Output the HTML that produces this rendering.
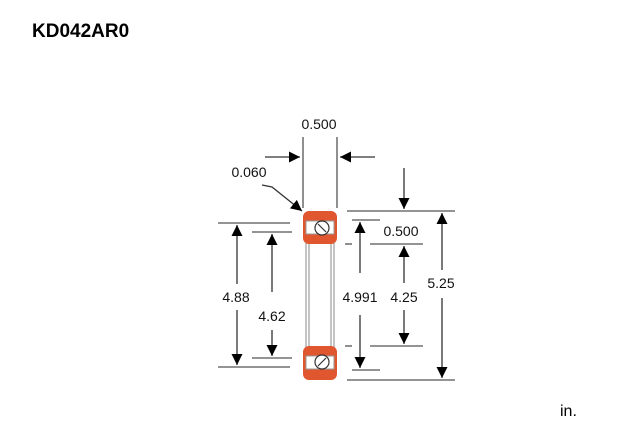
<!DOCTYPE html>
<html><head><style>
body{margin:0;background:#fff;width:640px;height:440px;overflow:hidden;font-family:"Liberation Sans",Arial,sans-serif}
</style></head><body>
<svg width="640" height="440" viewBox="0 0 640 440" xmlns="http://www.w3.org/2000/svg" font-family="Liberation Sans, Arial, sans-serif">
<defs>
<marker id="b" viewBox="0 0 10 10" refX="10" refY="5" markerWidth="26" markerHeight="11" markerUnits="userSpaceOnUse" orient="auto"><path d="M0,0L10,5L0,10z" fill="#000"/></marker>
</defs>
<text x="32" y="37" font-size="19" font-weight="bold">KD042AR0</text>
<text x="560" y="416" font-size="16">in.</text>
<g stroke="#555" stroke-width="1.3" fill="none">
<line x1="303" y1="137" x2="303" y2="208"/><line x1="337" y1="137" x2="337" y2="208"/>
<line x1="265" y1="157" x2="300" y2="157" marker-end="url(#b)" stroke="#333"/>
<line x1="375" y1="157" x2="340" y2="157" marker-end="url(#b)" stroke="#333"/>
<polyline points="262,185 272,187 302,211" marker-end="url(#b)" stroke="#333"/>
<line x1="218" y1="223" x2="290" y2="223"/><line x1="218" y1="367" x2="290" y2="367"/>
<line x1="252" y1="232" x2="292" y2="232"/><line x1="252" y1="358" x2="292" y2="358"/>
<line x1="237" y1="284" x2="237" y2="225" marker-end="url(#b)" stroke="#333"/>
<line x1="237" y1="310" x2="237" y2="365" marker-end="url(#b)" stroke="#333"/>
<line x1="272" y1="292" x2="272" y2="234" marker-end="url(#b)" stroke="#333"/>
<line x1="272" y1="330" x2="272" y2="356" marker-end="url(#b)" stroke="#333"/>
<line x1="347" y1="211" x2="455" y2="211"/><line x1="347" y1="380" x2="455" y2="380"/>
<line x1="352" y1="220" x2="380" y2="220"/><line x1="352" y1="370" x2="380" y2="370"/>
<line x1="345" y1="244" x2="352" y2="244"/><line x1="370" y1="244" x2="423" y2="244"/>
<line x1="345" y1="346" x2="352" y2="346"/><line x1="370" y1="346" x2="423" y2="346"/>
<line x1="442" y1="270" x2="442" y2="213" marker-end="url(#b)" stroke="#333"/>
<line x1="442" y1="298" x2="442" y2="378" marker-end="url(#b)" stroke="#333"/>
<line x1="360" y1="273" x2="360" y2="222" marker-end="url(#b)" stroke="#333"/>
<line x1="360" y1="315" x2="360" y2="368" marker-end="url(#b)" stroke="#333"/>
<line x1="404" y1="283" x2="404" y2="246" marker-end="url(#b)" stroke="#333"/>
<line x1="404" y1="310" x2="404" y2="344" marker-end="url(#b)" stroke="#333"/>
<line x1="404" y1="168" x2="404" y2="209" marker-end="url(#b)" stroke="#333"/>
</g>
<g stroke="#888" stroke-width="1" fill="none">
<line x1="306" y1="236" x2="306" y2="354"/><line x1="309" y1="236" x2="309" y2="354"/>
<line x1="331" y1="236" x2="331" y2="354"/><line x1="334" y1="236" x2="334" y2="354"/>
</g>
<rect x="303" y="211" width="34" height="33" rx="6" fill="#e0562e"/>
<rect x="303" y="346" width="34" height="34" rx="6" fill="#e0562e"/>
<rect x="306" y="221" width="28" height="13" fill="#fff" stroke="#999"/>
<rect x="306" y="356" width="28" height="13" fill="#fff" stroke="#999"/>
<circle cx="322" cy="228" r="7" fill="#fff" stroke="#333" stroke-width="1.2"/>
<circle cx="322" cy="362" r="7" fill="#fff" stroke="#333" stroke-width="1.2"/>
<line x1="318" y1="224" x2="326" y2="232" stroke="#333" stroke-width="1.2"/>
<line x1="326" y1="358" x2="318" y2="366" stroke="#333" stroke-width="1.2"/>
<g font-size="14" text-anchor="middle" fill="#111">
<text x="319" y="129">0.500</text>
<text x="249" y="177">0.060</text>
<text x="236" y="302">4.88</text>
<text x="272" y="321">4.62</text>
<text x="360" y="302">4.991</text>
<text x="404" y="302">4.25</text>
<text x="401" y="236">0.500</text>
<text x="441" y="288">5.25</text>
</g>
</svg>
</body></html>
